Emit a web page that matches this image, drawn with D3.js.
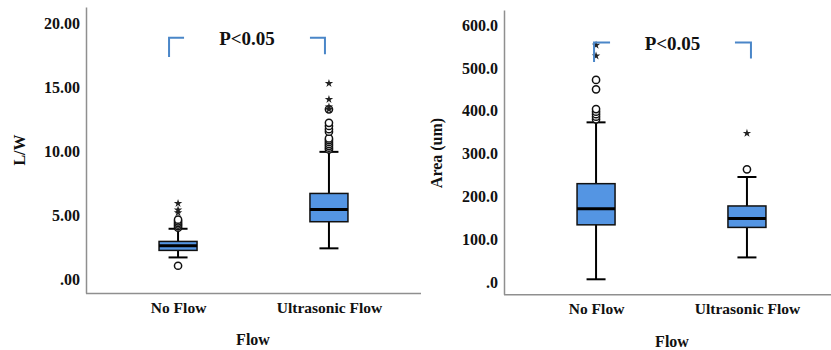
<!DOCTYPE html>
<html><head><meta charset="utf-8">
<script src="https://cdn.jsdelivr.net/npm/d3@7"></script>
<style>
body{margin:0;background:#fff;}
svg{display:block;}
text{font-family:"Liberation Serif","Times New Roman",serif;font-weight:bold;fill:#111;}
</style></head>
<body><svg id="c" width="831" height="350"></svg>
<script>
// ---- data ----
const categories = ["No Flow", "Ultrasonic Flow"];
// Chart 1: L/W
const lwTicks = [0, 5, 10, 15, 20];
const lwTickLabels = [".00", "5.00", "10.00", "15.00", "20.00"];
const lwWhiskerLow = [1.73, 2.44];
const lwQ1 = [2.28, 4.52];
const lwMedian = [2.64, 5.48];
const lwQ3 = [2.98, 6.73];
const lwWhiskerHigh = [3.97, 9.98];
const lwOutliers = [
  [1.08, 4.05, 4.18, 4.3, 4.42, 4.55, 4.68],
  [10.17, 10.3, 10.45, 10.6, 10.75, 10.9, 11.03, 11.55, 11.75, 12.0, 12.25, 13.3]
];
const lwExtremes = [
  [5.23, 5.44, 5.95],
  [13.3, 13.5, 14.08, 15.33]
];
// Chart 2: Area
const arTicks = [0, 100, 200, 300, 400, 500, 600];
const arTickLabels = [".0", "100.0", "200.0", "300.0", "400.0", "500.0", "600.0"];
const arWhiskerLow = [7, 58];
const arQ1 = [134, 128];
const arMedian = [171.5, 149];
const arQ3 = [230, 178];
const arWhiskerHigh = [373, 245.5];
const arOutliers = [
  [380, 386, 392, 398, 404, 450, 472],
  [263.5]
];
const arExtremes = [
  [528, 553],
  [347.5]
];
const pLabel = "P<0.05";

// ---- drawing ----
const svg = d3.select("#c");
const boxFill = "#5495e3";
const axisCol = "#8f8f8f";
const bracketCol = "#4a86c8";

function drawChart(cfg) {
  const g = svg.append("g");
  const y = d3.scaleLinear().domain(cfg.yDomain).range([cfg.bottom, cfg.top]);
  const x = d3.scalePoint().domain(categories).range([cfg.left, cfg.left + 335]).padding(0.61);

  // y axis
  const ya = g.append("g").attr("transform", `translate(${cfg.left},0)`)
    .call(d3.axisLeft(y).tickValues(cfg.ticks).tickSize(0).tickPadding(6)
      .tickFormat((d, i) => cfg.tickLabels[i]));
  ya.select(".domain").attr("stroke", axisCol).attr("stroke-width", 1.5);
  ya.selectAll("text").attr("font-size", 16).attr("font-family", null).attr("fill", "#111");

  // x axis
  const xa = g.append("g").attr("transform", `translate(0,${cfg.bottom})`)
    .call(d3.axisBottom(x).tickSize(0).tickPadding(9).tickSizeOuter(0));
  xa.select(".domain").attr("stroke", axisCol).attr("stroke-width", 1.5)
    .attr("d", `M${cfg.left},0.5H${cfg.xEnd}`);
  xa.selectAll("text").attr("font-size", 15.5).attr("font-family", null).attr("fill", "#111");

  // titles
  g.append("text").attr("transform", `translate(${cfg.yTitleX},${cfg.yTitleY}) rotate(-90)`)
    .attr("text-anchor", "middle").attr("font-size", 16).text(cfg.yTitle);
  g.append("text").attr("x", cfg.xTitleX).attr("y", cfg.xTitleY)
    .attr("text-anchor", "middle").attr("font-size", 16).text("Flow");

  const bw = 38, cw = 19;
  categories.forEach((c, i) => {
    const cx = x(c);
    // whisker stem
    g.append("line").attr("x1", cx).attr("x2", cx)
      .attr("y1", y(cfg.wl[i])).attr("y2", y(cfg.wh[i]))
      .attr("stroke", "#000").attr("stroke-width", 2);
    [cfg.wl[i], cfg.wh[i]].forEach(v => {
      g.append("line").attr("x1", cx - cw / 2).attr("x2", cx + cw / 2)
        .attr("y1", y(v)).attr("y2", y(v)).attr("stroke", "#000").attr("stroke-width", 2);
    });
    g.append("rect").attr("x", cx - bw / 2).attr("width", bw)
      .attr("y", y(cfg.q3[i])).attr("height", y(cfg.q1[i]) - y(cfg.q3[i]))
      .attr("fill", boxFill).attr("stroke", "#111").attr("stroke-width", 1.5);
    g.append("line").attr("x1", cx - bw / 2).attr("x2", cx + bw / 2)
      .attr("y1", y(cfg.med[i])).attr("y2", y(cfg.med[i]))
      .attr("stroke", "#000").attr("stroke-width", 3);
    cfg.out[i].forEach(v => {
      g.append("circle").attr("cx", cx).attr("cy", y(v)).attr("r", 3.6)
        .attr("fill", "#fff").attr("stroke", "#111").attr("stroke-width", 1.5);
    });
    cfg.ext[i].forEach(v => {
      g.append("path").attr("transform", `translate(${cx},${y(v)})`)
        .attr("d", d3.symbol(d3.symbolStar, 22)()).attr("fill", "#222");
    });
  });

  // significance brackets
  const b = cfg.bracket;
  const lx = x(categories[0]) + b.dl, rx = x(categories[1]) + b.dr;
  g.append("path").attr("d", `M${lx},${y(b.lowL)}V${y(b.top)}H${lx + b.arm}`)
    .attr("fill", "none").attr("stroke", bracketCol).attr("stroke-width", 2);
  g.append("path").attr("d", `M${rx - b.arm},${y(b.top)}H${rx}V${y(b.lowR)}`)
    .attr("fill", "none").attr("stroke", bracketCol).attr("stroke-width", 2);
  g.append("text").attr("x", b.tx).attr("y", b.ty).attr("text-anchor", "middle")
    .attr("font-size", 19).text(pLabel);
}

drawChart({
  left: 86, xEnd: 421, top: 7, bottom: 293, yDomain: [-1.05, 21.3],
  ticks: lwTicks, tickLabels: lwTickLabels,
  wl: lwWhiskerLow, q1: lwQ1, med: lwMedian, q3: lwQ3, wh: lwWhiskerHigh,
  out: lwOutliers, ext: lwExtremes,
  yTitle: "L/W", yTitleX: 25, yTitleY: 150, xTitleX: 253, xTitleY: 345,
  bracket: { dl: -9, dr: -4, arm: 15, top: 18.9, lowL: 17.4, lowR: 17.6, tx: 247, ty: 45 }
});
drawChart({
  left: 504, xEnd: 831, top: 10, bottom: 294.3, yDomain: [-28, 635],
  ticks: arTicks, tickLabels: arTickLabels,
  wl: arWhiskerLow, q1: arQ1, med: arMedian, q3: arQ3, wh: arWhiskerHigh,
  out: arOutliers, ext: arExtremes,
  yTitle: "Area (um)", yTitleX: 442, yTitleY: 153, xTitleX: 672, xTitleY: 347,
  bracket: { dl: -2, dr: 4, arm: 16, top: 559, lowL: 514, lowR: 522, tx: 672.5, ty: 50 }
});
</script></body></html>
